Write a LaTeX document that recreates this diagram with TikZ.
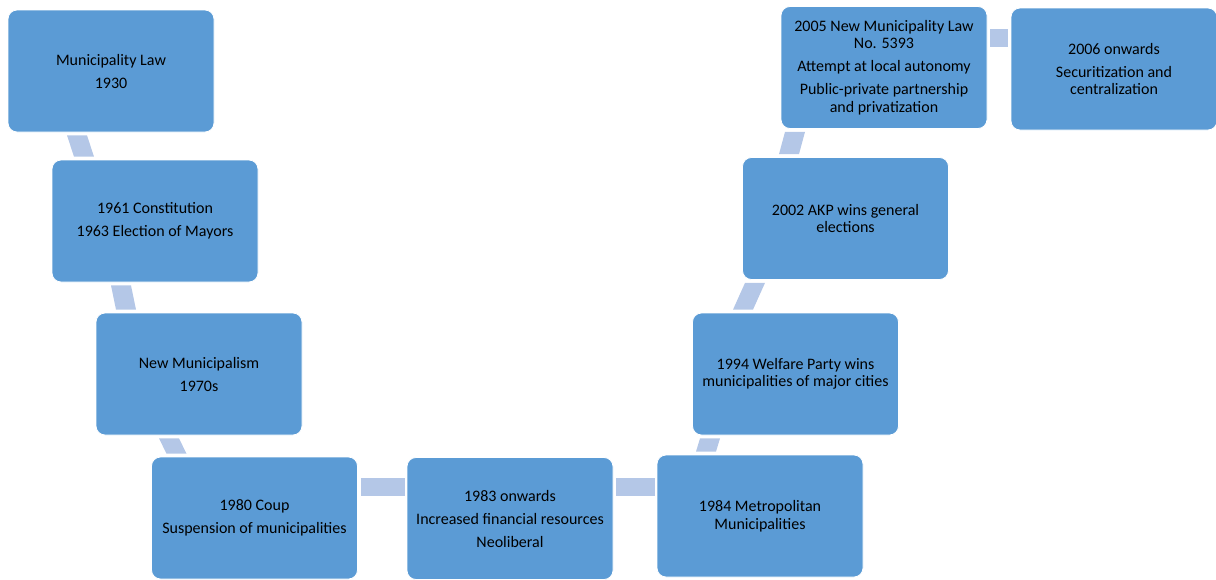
\documentclass[tikz,border=0pt]{standalone}
\usepackage{fontspec}
\setmainfont{Carlito}
\definecolor{boxblue}{HTML}{5B9BD5}
\definecolor{linkblue}{HTML}{B4C7E7}

\begin{document}
\begin{tikzpicture}[x=1pt,y=-1pt,
    box/.style={rectangle, rounded corners=9pt, fill=boxblue, draw=white,
        line width=0.8pt, minimum width=206pt, minimum height=122pt,
        align=center, inner sep=2pt, font=\fontsize{16}{17.5}\selectfont},
    link/.style={fill=linkblue},
    hlink/.style={draw=linkblue, line width=18pt}]
\useasboundingbox (0,0) rectangle (1216,579);

% Draw boxes
\node[box] (law1930)     at (111,71)    {Municipality Law\\[5.5pt]1930};
\node[box] (const1961)   at (155,221)   {1961 Constitution\\[5.5pt]1963 Election of Mayors};
\node[box] (newmun)      at (199,374)   {New Municipalism\\[5.5pt]1970s};
\node[box] (coup1980)    at (254.5,518) {1980 Coup\\[5.5pt]Suspension of municipalities};
\node[box] (onward1983)  at (510,518.5) {1983 onwards\\[5.5pt]Increased financial resources\\[5.5pt]Neoliberal};
\node[box] (metro1984)   at (760,516)   {1984 Metropolitan\\Municipalities};
\node[box] (welfare1994) at (795.5,374) {1994 Welfare Party wins\\municipalities of major cities};
\node[box] (akp2002)     at (845.5,218.5) {2002 AKP wins general\\elections};
\node[box] (law2005)     at (884,67.5)  {2005 New Municipality Law\\No. 5393\\[5.5pt]Attempt at local autonomy\\[5.5pt]Public-private partnership\\and privatization};
\node[box] (onward2006)  at (1114,69)   {2006 onwards\\[5.5pt]Securitization and\\centralization};

% Draw links (slanted bands between rows)
\fill[link] ([xshift=-44pt,yshift=-3pt]law1930.south) -- ++(20,0)
    -- ([xshift=-61pt,yshift=3pt]const1961.north) -- ++(-20,0) -- cycle;
\fill[link] ([xshift=-44pt,yshift=-3pt]const1961.south) -- ++(20,0)
    -- ([xshift=-63pt,yshift=3pt]newmun.north) -- ++(-20,0) -- cycle;
\fill[link] ([xshift=-40pt,yshift=-3pt]newmun.south) -- ++(20,0)
    -- ([xshift=-68pt,yshift=3pt]coup1980.north) -- ++(-20,0) -- cycle;
\fill[link] ([xshift=-64pt,yshift=3pt]metro1984.north) -- ++(20,0)
    -- ([xshift=-75.5pt,yshift=-3pt]welfare1994.south) -- ++(-20,0) -- cycle;
\fill[link] ([xshift=-62.5pt,yshift=3pt]welfare1994.north) -- ++(20,0)
    -- ([xshift=-80.5pt,yshift=-3pt]akp2002.south) -- ++(-20,0) -- cycle;
\fill[link] ([xshift=-66.5pt,yshift=3pt]akp2002.north) -- ++(20,0)
    -- ([xshift=-79pt,yshift=-3pt]law2005.south) -- ++(-20,0) -- cycle;

% Draw links (flat bands within rows)
\draw[hlink] ([xshift=3pt,yshift=31pt]coup1980.east) -- ([xshift=-2pt,yshift=31pt]coup1980.east -| onward1983.west);
\draw[hlink] ([xshift=3pt,yshift=32pt]onward1983.east) -- ([xshift=-2pt,yshift=32pt]onward1983.east -| metro1984.west);
\draw[hlink] ([xshift=3pt,yshift=30pt]law2005.east) -- ([xshift=-3pt,yshift=30pt]law2005.east -| onward2006.west);
\end{tikzpicture}
\end{document}
